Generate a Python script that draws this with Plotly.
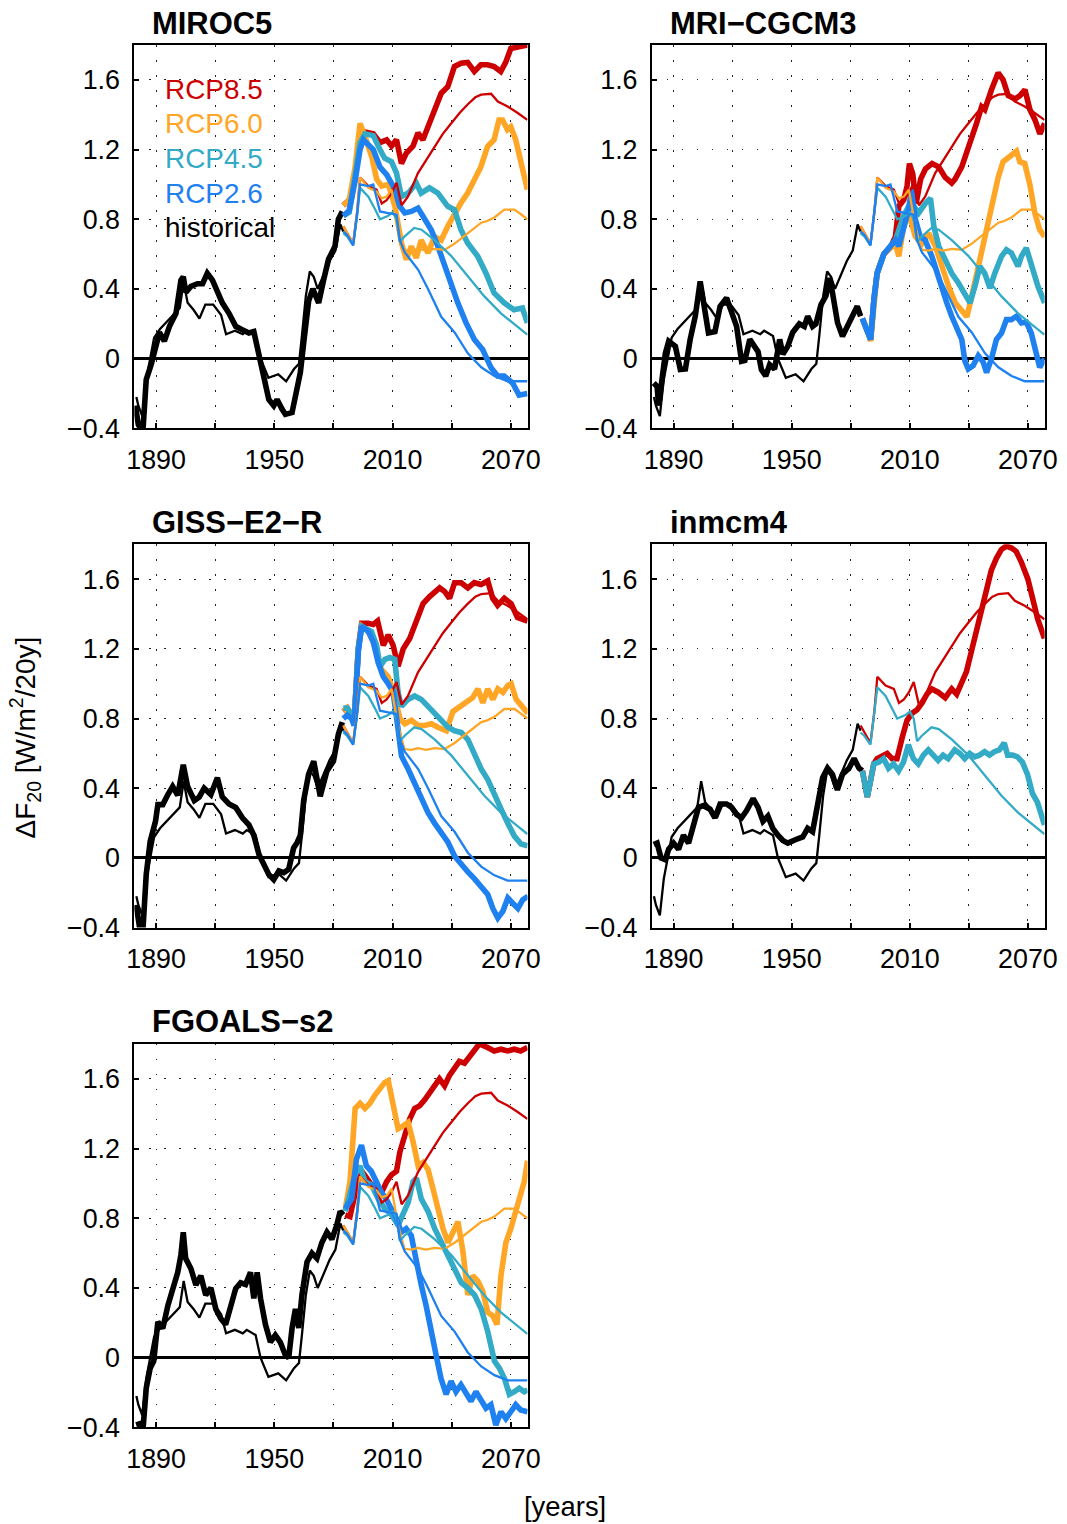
import plotly.graph_objects as go

# target picture is 1067x1524; the captured page area is a little larger, so the
# figure is sized to that area and positions are given as fractions of the target picture
PIC_W, PIC_H = 1067, 1524
W, H = 1083, 1540
FS = W / PIC_W  # font scale so text keeps its size after capture
XSHIFT = -5
RED = '#CC0000'
ORANGE = '#FFA626'
TEAL = '#33AAC6'
BLUE = '#1F80F0'
FONT = 'Liberation Sans, Arial, sans-serif'


def px(xp):
    return (xp + XSHIFT) / PIC_W


def py(yp):
    return 1 - yp / PIC_H


# ---------------- shared thin (multi-model mean) lines ----------------
hist_mean_years = [1880, 1881, 1883, 1885, 1887, 1889, 1892, 1897, 1902, 1904, 1906, 1909, 1912,
                   1915, 1919, 1923, 1925.5, 1930, 1934, 1936, 1940.5, 1943, 1947, 1952, 1956,
                   1960, 1962.5, 1964, 1966, 1968, 1970, 1972, 1975, 1978, 1981, 1983.5, 1985]
hist_mean_vals = [-0.22, -0.27, -0.33, -0.12, 0.0, 0.12, 0.17, 0.23, 0.29, 0.44, 0.32, 0.28, 0.23,
                  0.31, 0.31, 0.25, 0.14, 0.16, 0.14, 0.16, 0.13, 0.0, -0.11, -0.09, -0.13,
                  -0.06, -0.03, 0.13, 0.36, 0.50, 0.47, 0.40, 0.48, 0.56, 0.62, 0.77, 0.73]

rcp85_mean_years = [1985, 1987, 1990, 1992, 1993.5, 1997.7, 2001.9, 2004.5, 2007, 2009.5, 2012, 2014.6,
                    2017.8, 2022.9, 2027, 2031.3, 2035.5, 2039.7, 2044, 2048.2, 2052, 2055, 2060,
                    2063.4, 2068.4, 2073.5, 2078.4]
rcp85_mean_vals = [0.76, 0.72, 0.66, 0.84, 1.04, 0.99, 0.97, 0.89, 0.91, 0.95, 1.01, 0.88,
                   0.93, 1.065, 1.14, 1.22, 1.29, 1.35, 1.41, 1.46, 1.50, 1.515, 1.52,
                   1.476, 1.447, 1.41, 1.37]

rcp60_mean_years = [1985, 1987, 1990, 1992, 1993.5, 1997.7, 2001.9, 2004.5, 2007, 2009.5, 2012.8, 2016,
                    2019.5, 2023, 2027, 2031.3, 2036.4, 2041.5, 2045, 2048.2, 2051.5, 2055, 2058,
                    2061.7, 2066.7, 2071.8, 2075, 2078.4]
rcp60_mean_vals = [0.76, 0.72, 0.66, 0.84, 1.04, 0.98, 0.96, 0.92, 0.93, 0.97, 0.76, 0.625,
                   0.62, 0.63, 0.62, 0.63, 0.625, 0.66, 0.69, 0.72, 0.75, 0.78, 0.79,
                   0.81, 0.855, 0.855, 0.83, 0.80]

rcp45_mean_years = [1985, 1987, 1990, 1992, 1993.5, 1997.7, 2001, 2003.6, 2007.8, 2010, 2012, 2013.7,
                    2016, 2021, 2024.7, 2031.3, 2039.7, 2048.2, 2056.6, 2065, 2073.5, 2078.4]
rcp45_mean_vals = [0.72, 0.70, 0.65, 0.82, 0.98, 0.93, 0.86, 0.80, 0.82, 0.84, 0.80, 0.67,
                   0.70, 0.75, 0.74, 0.68, 0.59, 0.47, 0.357, 0.26, 0.185, 0.137]

rcp26_mean_years = [1985, 1987, 1990, 1992, 1993.5, 1997.7, 2000.2, 2003.6, 2007.8, 2012, 2013.7,
                    2016.2, 2019.6, 2023, 2028, 2034.7, 2041.5, 2048.2, 2055, 2061.7, 2068.4, 2078.4]
rcp26_mean_vals = [0.73, 0.71, 0.65, 0.83, 1.0, 0.99, 1.0, 0.845, 0.835, 0.826, 0.68,
                   0.61, 0.56, 0.51, 0.40, 0.24, 0.15, 0.03, -0.05, -0.10, -0.13, -0.13]

# ---------------- MIROC5 ----------------
miroc5_hist_years = [1879.5, 1881, 1883.3, 1885, 1887.5, 1890, 1891.7, 1894.2, 1896.8, 1900.1, 1902.6,
                     1903.8, 1905.1, 1907.7, 1911, 1913.6, 1916, 1918.6, 1921.1, 1923.6, 1927, 1930.4,
                     1933.7, 1937.1, 1939.6, 1942.2, 1944.7, 1947.2, 1949.7, 1951.4, 1953.9, 1955.6,
                     1959, 1960.6, 1963.2, 1965, 1967.4, 1969.5, 1971, 1972.5, 1975, 1977.5, 1980.8,
                     1982.5, 1984.5]
miroc5_hist_vals = [-0.27, -0.38, -0.42, -0.12, -0.035, 0.07, 0.15, 0.10, 0.185, 0.26, 0.45,
                    0.47, 0.38, 0.415, 0.43, 0.43, 0.49, 0.45, 0.38, 0.32, 0.26, 0.185,
                    0.166, 0.147, 0.155, 0.03, -0.10, -0.235, -0.27, -0.235, -0.29, -0.32,
                    -0.31, -0.235, -0.08, 0.10, 0.33, 0.40, 0.36, 0.32, 0.45, 0.57, 0.645,
                    0.80, 0.845]
miroc5_rcp85_years = [1985, 1987, 1989, 1991, 1993.5, 1996, 2000.2, 2003.6, 2007, 2009.5, 2012, 2014.5,
                      2017, 2020.4, 2022.9, 2025.4, 2028, 2031.3, 2034.7, 2038, 2041.4, 2044.7, 2048.1,
                      2051.5, 2054.8, 2058.2, 2061.5, 2064.9, 2067.4, 2070, 2073.4, 2078.4]
miroc5_rcp85_vals = [0.88, 0.90, 0.92, 1.06, 1.30, 1.30, 1.29, 1.24, 1.256, 1.22, 1.256, 1.12,
                     1.18, 1.22, 1.295, 1.256, 1.33, 1.43, 1.524, 1.56, 1.677, 1.696, 1.70,
                     1.648, 1.687, 1.687, 1.677, 1.648, 1.70, 1.78, 1.79, 1.80]
miroc5_rcp60_years = [1985, 1988, 1991, 1993.5, 1996, 1999.4, 2001.9, 2004.5, 2007.9, 2011.2, 2014.5, 2017,
                      2019.5, 2022, 2024.5, 2028, 2031.3, 2034.7, 2038, 2041.4, 2044.7, 2048.1, 2051.5,
                      2054.8, 2058.2, 2061.5, 2064, 2065.8, 2068.3, 2070, 2072.5, 2075, 2078.4]
miroc5_rcp60_vals = [0.88, 0.91, 1.10, 1.35, 1.275, 1.16, 1.03, 0.99, 1.0, 0.874, 0.664, 0.568,
                     0.645, 0.578, 0.68, 0.606, 0.70, 0.68, 0.76, 0.836, 0.893, 0.95, 1.027,
                     1.10, 1.218, 1.256, 1.37, 1.37, 1.314, 1.33, 1.256, 1.14, 0.97]
miroc5_rcp45_years = [1985, 1988, 1991, 1993.5, 1996, 2000.2, 2003.6, 2006, 2009.5, 2012, 2014.5, 2018,
                      2022, 2024.5, 2028.7, 2033, 2038, 2041.4, 2044.7, 2048.1, 2053.2, 2057.4, 2061.5,
                      2066.6, 2071.6, 2075.9, 2078.4]
miroc5_rcp45_vals = [0.82, 0.84, 1.05, 1.24, 1.29, 1.28, 1.20, 1.15, 1.13, 1.065, 0.93, 0.95,
                     1.008, 0.95, 0.98, 0.95, 0.874, 0.855, 0.74, 0.664, 0.587, 0.49, 0.377,
                     0.32, 0.28, 0.29, 0.205]
miroc5_rcp26_years = [1985, 1988, 1991, 1993.5, 1995.2, 2000.2, 2003.6, 2007, 2010.3, 2013.7, 2016.2,
                      2019.5, 2022.9, 2026.3, 2029.6, 2033, 2036.4, 2039.8, 2043.1, 2047.3, 2051.5,
                      2055.7, 2060, 2063.3, 2066.6, 2070.9, 2074.2, 2078.4]
miroc5_rcp26_vals = [0.82, 0.85, 1.02, 1.20, 1.256, 1.20, 1.10, 1.056, 0.99, 0.874, 0.836,
                     0.845, 0.864, 0.80, 0.74, 0.645, 0.53, 0.434, 0.32, 0.205, 0.11,
                     0.052, -0.053, -0.10, -0.10, -0.14, -0.21, -0.20]

# ---------------- MRI-CGCM3 ----------------
mri_hist_years = [1879.9, 1881.6, 1882.4, 1884.1, 1885.8, 1887.5, 1890.9, 1893.4, 1896, 1898.4, 1901,
                  1903.5, 1906, 1907.7, 1911, 1913.6, 1916.9, 1919.5, 1922, 1924.5, 1926.2, 1928.7,
                  1930.4, 1932.9, 1934.6, 1936.8, 1938.8, 1941.3, 1943.9, 1945.5, 1948, 1950.5,
                  1953.9, 1956.4, 1958.1, 1960.6, 1962.3, 1964.9, 1967.4, 1969.2, 1970.7, 1973.3,
                  1975.8, 1978.3, 1980.8, 1983.3, 1985]
mri_hist_vals = [-0.14, -0.16, -0.27, -0.08, 0.03, 0.10, 0.07, -0.063, -0.06, 0.11, 0.243,
                 0.443, 0.243, 0.147, 0.155, 0.30, 0.348, 0.26, 0.185, -0.015, -0.01, 0.11,
                 0.08, 0.04, -0.063, -0.10, -0.035, -0.06, 0.11, 0.025, 0.07, 0.15,
                 0.20, 0.185, 0.243, 0.185, 0.20, 0.31, 0.36, 0.463, 0.38, 0.205,
                 0.128, 0.185, 0.243, 0.30, 0.243]
mri_rcp85_years = [1985.9, 1989.2, 1990.1, 1991.8, 1993.4, 1996.8, 2000.2, 2002.7, 2004.4, 2006.9, 2008.6,
                   2009.8, 2011.5, 2013.2, 2015.5, 2018, 2021.3, 2024.7, 2028, 2031.3, 2033, 2036.4,
                   2039, 2041.4, 2043.9, 2046.5, 2048.1, 2051.5, 2054.9, 2057.4, 2060, 2063.4, 2066,
                   2068.5, 2071, 2073.6, 2076.1, 2078.5]
mri_rcp85_vals = [0.23, 0.147, 0.11, 0.34, 0.49, 0.60, 0.64, 0.70, 0.874, 0.91, 0.99,
                  1.12, 1.06, 0.89, 1.03, 1.09, 1.12, 1.10, 1.04, 1.008, 1.03, 1.10,
                  1.18, 1.256, 1.35, 1.446, 1.43, 1.543, 1.64, 1.60, 1.51, 1.49, 1.51,
                  1.543, 1.43, 1.37, 1.29, 1.35]
mri_rcp60_years = [1985.9, 1989.2, 1990.1, 1991.8, 1993.4, 1996.8, 2000.2, 2002.7, 2004.4, 2006.9, 2009.4,
                   2012.8, 2016.2, 2019.6, 2023, 2026.3, 2029.7, 2033.1, 2036.4, 2039, 2041.5, 2044.8,
                   2048.2, 2051.5, 2054.9, 2057.4, 2060, 2062.5, 2064.2, 2065.9, 2068.4, 2071, 2073.5,
                   2076, 2078.5]
mri_rcp60_vals = [0.23, 0.147, 0.10, 0.34, 0.49, 0.60, 0.63, 0.66, 0.587, 0.76, 0.836,
                  0.70, 0.66, 0.72, 0.645, 0.53, 0.415, 0.32, 0.28, 0.24, 0.36, 0.53,
                  0.70, 0.89, 1.04, 1.13, 1.15, 1.17, 1.19, 1.13, 1.12, 1.0, 0.836,
                  0.74, 0.70]
mri_rcp45_years = [1985.9, 1989.2, 1990.1, 1991.8, 1993.4, 1996.8, 2000.2, 2002.7, 2006.9, 2009.4, 2012,
                   2014.5, 2018, 2020.5, 2022.2, 2024.7, 2028, 2031.3, 2034.7, 2038, 2040.6, 2043.1,
                   2045.6, 2048.1, 2050.7, 2053.2, 2056.6, 2059.1, 2061.6, 2065, 2066.7, 2069.2,
                   2071.7, 2075.1, 2078.5]
mri_rcp45_vals = [0.23, 0.147, 0.11, 0.34, 0.49, 0.60, 0.64, 0.68, 0.82, 0.874, 0.874,
                  0.836, 0.893, 0.92, 0.76, 0.645, 0.568, 0.49, 0.434, 0.377, 0.32, 0.415,
                  0.53, 0.49, 0.405, 0.49, 0.587, 0.625, 0.606, 0.53, 0.587, 0.635,
                  0.53, 0.415, 0.32]
mri_rcp26_years = [1985.9, 1989.2, 1990.1, 1991.8, 1993.4, 1996.8, 2000.2, 2002.7, 2004.4, 2006.9, 2009.4,
                   2010.8, 2012.8, 2015.3, 2017.8, 2021.2, 2023.7, 2026.3, 2028.8, 2031.3, 2033.8,
                   2036.4, 2038, 2039.7, 2042.2, 2044.8, 2047.3, 2049, 2051.5, 2054, 2056.6, 2059.1,
                   2061.6, 2064.2, 2066.7, 2069.2, 2071.7, 2074.3, 2076, 2078.5]
mri_rcp26_vals = [0.23, 0.147, 0.11, 0.34, 0.49, 0.60, 0.64, 0.68, 0.645, 0.74, 0.855,
                  0.97, 0.80, 0.70, 0.68, 0.587, 0.49, 0.396, 0.32, 0.243, 0.185,
                  0.11, -0.014, -0.06, -0.04, 0.017, -0.02, -0.08, 0.0, 0.11, 0.147, 0.224,
                  0.224, 0.243, 0.205, 0.21, 0.147, 0.017, -0.05, 0.0]

# ---------------- GISS-E2-R ----------------
giss_hist_years = [1879.9, 1881.9, 1883.3, 1885, 1887, 1889.7, 1890.9, 1893.4, 1896, 1898.4, 1901, 1903.8,
                   1906, 1909.4, 1911.9, 1914.4, 1917.8, 1921.1, 1923.6, 1927, 1930.4, 1933.8, 1937.1,
                   1939.6, 1942.2, 1944.7, 1947.2, 1949.7, 1952.3, 1954.8, 1957.3, 1959.8, 1961.5,
                   1963.2, 1964.9, 1967.4, 1970, 1973.3, 1976.7, 1980, 1982.5, 1984.5]
giss_hist_vals = [-0.27, -0.42, -0.42, -0.095, 0.096, 0.21, 0.306, 0.306, 0.364, 0.41, 0.36, 0.535,
                  0.41, 0.33, 0.35, 0.40, 0.364, 0.46, 0.35, 0.31, 0.29, 0.23, 0.19,
                  0.13, 0.02, -0.045, -0.095, -0.125, -0.075, -0.085, -0.065, 0.057, 0.086,
                  0.13, 0.33, 0.48, 0.555, 0.354, 0.50, 0.555, 0.71, 0.78]
giss_rcp85_years = [1985, 1987, 1989.2, 1990.5, 1992.6, 1994.3, 1997.7, 2000.2, 2002.4, 2005.3, 2007.8,
                    2010.3, 2012.8, 2015.4, 2018.7, 2022.1, 2025.5, 2028.8, 2031.4, 2033.9, 2036.4,
                    2038.9, 2041.5, 2044.8, 2048.2, 2051.5, 2054.9, 2058.3, 2060.8, 2063.3, 2066.7,
                    2070.1, 2073.4, 2078.5]
giss_rcp85_vals = [0.84, 0.86, 0.82, 0.78, 1.20, 1.347, 1.347, 1.34, 1.36, 1.22, 1.28,
                   1.22, 1.10, 1.20, 1.26, 1.36, 1.46, 1.50, 1.53, 1.55, 1.53,
                   1.49, 1.58, 1.58, 1.55, 1.58, 1.57, 1.59, 1.49, 1.45, 1.49,
                   1.46, 1.38, 1.36]
giss_rcp60_years = [1985, 1987, 1989.2, 1990.5, 1992.6, 1994.3, 1997.7, 2000.2, 2002.7, 2004.4, 2007.8,
                    2011.1, 2013.7, 2016.2, 2019.6, 2022.9, 2026.3, 2029.7, 2033, 2037.3, 2040.6, 2044,
                    2047.4, 2050.7, 2053.3, 2055.8, 2058.3, 2060.9, 2063.4, 2066, 2068.5, 2070.2,
                    2072.7, 2075.3, 2078.7]
giss_rcp60_vals = [0.84, 0.86, 0.82, 0.78, 1.20, 1.33, 1.30, 1.24, 1.14, 1.08, 1.04,
                   0.93, 0.80, 0.77, 0.79, 0.76, 0.76, 0.77, 0.75, 0.73, 0.84, 0.87,
                   0.89, 0.92, 0.97, 0.89, 0.97, 0.91, 0.97, 0.95, 0.99, 1.0,
                   0.91, 0.87, 0.83]
giss_rcp45_years = [1985, 1987, 1989.2, 1990.5, 1992.6, 1994.3, 1999.3, 2001.9, 2003.6, 2006.1, 2008.6,
                    2011.1, 2012.8, 2014.5, 2017.8, 2021.2, 2024.6, 2028, 2031.4, 2034.8, 2038.1,
                    2041.5, 2044.9, 2048.2, 2051.6, 2055, 2058.3, 2061.7, 2065.1, 2068.4, 2071.8,
                    2075.2, 2078.5]
giss_rcp45_vals = [0.86, 0.86, 0.82, 0.78, 1.20, 1.33, 1.30, 1.22, 1.10, 1.14, 1.15,
                   1.14, 0.95, 0.87, 0.91, 0.93, 0.91, 0.87, 0.84, 0.80, 0.75,
                   0.73, 0.72, 0.68, 0.585, 0.51, 0.45, 0.355, 0.28, 0.20, 0.125,
                   0.08, 0.07]
giss_rcp26_years = [1985, 1987, 1989.2, 1990.5, 1992.6, 1994.3, 1997.7, 2000.2, 2002.7, 2005.3, 2007.8,
                    2010.3, 2012.8, 2014.5, 2017.9, 2021.2, 2024.6, 2028, 2031.3, 2034.7, 2038.1,
                    2041.5, 2044.9, 2048.2, 2051.6, 2055, 2058.3, 2060.9, 2063.4, 2066, 2068.5,
                    2071, 2073.6, 2076.1, 2078.7]
giss_rcp26_vals = [0.80, 0.82, 0.80, 0.76, 1.18, 1.33, 1.30, 1.24, 1.12, 1.04, 1.0,
                   0.95, 0.74, 0.585, 0.51, 0.43, 0.335, 0.26, 0.20, 0.145, 0.09,
                   0.01, -0.04, -0.08, -0.12, -0.17, -0.21, -0.29, -0.345, -0.305, -0.23,
                   -0.26, -0.29, -0.24, -0.22]

# ---------------- inmcm4 ----------------
inm_hist_years = [1879.9, 1881.6, 1883.6, 1885.8, 1887.5, 1890, 1892.5, 1895, 1897.6, 1900.1, 1902.6,
                  1905.1, 1908.5, 1911, 1913.6, 1916.9, 1919.5, 1922, 1924.5, 1927, 1930.4, 1932.9,
                  1935.4, 1937.9, 1940.4, 1943, 1945.5, 1948, 1950.5, 1953, 1955.6, 1958.1, 1960.6,
                  1963.2, 1965.7, 1968.2, 1970.7, 1973.2, 1975.8, 1979.1, 1981.7, 1984.2, 1985.9]
inm_hist_vals = [0.077, 0.085, 0.0, -0.01, 0.05, 0.085, 0.05, 0.13, 0.085, 0.19, 0.29,
                 0.30, 0.28, 0.23, 0.31, 0.31, 0.29, 0.25, 0.23, 0.27, 0.34, 0.29,
                 0.21, 0.24, 0.17, 0.13, 0.10, 0.085, 0.10, 0.11, 0.12, 0.17, 0.15,
                 0.30, 0.46, 0.515, 0.48, 0.39, 0.48, 0.515, 0.57, 0.515, 0.50]
inm_rcp85_years = [1985.9, 1988.4, 1990, 1991.7, 1993.4, 1996, 1998.5, 2001, 2003.5, 2006.1, 2008.6,
                   2011.1, 2013.7, 2016.2, 2018.7, 2021.2, 2024.6, 2028, 2031.3, 2033.8, 2036.3,
                   2038.8, 2041.4, 2043.9, 2046.4, 2048.9, 2051.4, 2054, 2056.5, 2059, 2061.5, 2064,
                   2066.6, 2070, 2072.5, 2075, 2078.4]
inm_rcp85_vals = [0.50, 0.35, 0.44, 0.54, 0.57, 0.59, 0.60, 0.57, 0.57, 0.69, 0.79,
                  0.83, 0.85, 0.89, 0.94, 0.97, 0.95, 0.92, 0.97, 0.94, 1.0,
                  1.07, 1.19, 1.30, 1.40, 1.51, 1.65, 1.72, 1.77, 1.79, 1.78, 1.76,
                  1.70, 1.60, 1.49, 1.37, 1.26]
inm_rcp45_years = [1985.9, 1988.4, 1990, 1991.7, 1994.2, 1996.7, 1999.2, 2001.7, 2004.3, 2006.8, 2009.3,
                   2011.8, 2014.3, 2016.9, 2019.4, 2021.9, 2024.4, 2026.9, 2029.5, 2032.8, 2035.4,
                   2037.9, 2040.4, 2042.9, 2045.4, 2048, 2050.5, 2053, 2055.5, 2058, 2059.7, 2062.2,
                   2064.7, 2067.2, 2069.8, 2072.3, 2074.8, 2076.5, 2078.4]
inm_rcp45_vals = [0.50, 0.35, 0.44, 0.54, 0.55, 0.57, 0.515, 0.54, 0.50, 0.55, 0.65,
                  0.57, 0.54, 0.59, 0.62, 0.59, 0.56, 0.59, 0.57, 0.62, 0.60,
                  0.57, 0.60, 0.58, 0.59, 0.61, 0.59, 0.61, 0.62, 0.66, 0.59, 0.59,
                  0.58, 0.55, 0.48, 0.37, 0.32, 0.26, 0.19]

# ---------------- FGOALS-s2 ----------------
fgoals_hist_years = [1879.9, 1881.5, 1883.3, 1885, 1887, 1888.8, 1890.9, 1893.4, 1896, 1898.4, 1901, 1902.6,
                     1903.8, 1905, 1907.7, 1910.2, 1912.7, 1915.2, 1917.8, 1920.3, 1922.8, 1925.3,
                     1927.8, 1930.4, 1932.9, 1935.4, 1937.9, 1939.6, 1941.3, 1943, 1945.5, 1948,
                     1950.5, 1953, 1955.6, 1957.3, 1959, 1960.7, 1962.4, 1964, 1966.6, 1969.1, 1971.6,
                     1974.1, 1976.7, 1979.2, 1981.7, 1983.4, 1985]
fgoals_hist_vals = [-0.386, -0.38, -0.42, -0.175, -0.06, -0.02, 0.206, 0.168, 0.30, 0.397, 0.49, 0.59,
                    0.72, 0.57, 0.51, 0.417, 0.47, 0.36, 0.40, 0.28, 0.225, 0.19,
                    0.30, 0.397, 0.43, 0.42, 0.49, 0.34, 0.49, 0.34, 0.19, 0.09,
                    0.13, 0.09, 0.015, 0.0, 0.17, 0.28, 0.17, 0.36, 0.55, 0.60, 0.57,
                    0.66, 0.72, 0.68, 0.76, 0.84, 0.82]
fgoals_rcp85_years = [1986, 1988.4, 1991.9, 1994.4, 1996.9, 1999.4, 2001.9, 2004.5, 2007, 2009.5, 2012,
                      2013.7, 2016.2, 2018.7, 2021.2, 2023.7, 2026.3, 2028.8, 2031.3, 2033.8, 2036.4,
                      2038.9, 2041.4, 2043.9, 2046.5, 2049, 2051.5, 2054, 2058.2, 2061.6, 2065,
                      2068.3, 2071.7, 2075, 2078.4]
fgoals_rcp85_vals = [0.82, 0.81, 0.99, 1.07, 1.03, 0.99, 0.99, 0.95, 1.01, 1.05, 1.07,
                     1.18, 1.275, 1.37, 1.43, 1.445, 1.48, 1.52, 1.56, 1.60, 1.56,
                     1.62, 1.66, 1.70, 1.69, 1.73, 1.76, 1.80, 1.78, 1.76, 1.77,
                     1.76, 1.77, 1.76, 1.78]
fgoals_rcp60_years = [1986, 1988.4, 1991, 1993.5, 1996, 1998.5, 2001, 2003.6, 2006.1, 2007.8, 2010.3,
                      2012.8, 2015.4, 2017.9, 2020.4, 2023, 2025.5, 2028, 2030.5, 2033.1, 2035.6,
                      2038.1, 2040.6, 2043.2, 2045.7, 2048.2, 2050.7, 2053.3, 2055.8, 2058.3, 2060.9,
                      2063, 2065, 2067.5, 2070, 2072.6, 2075.1, 2076.8, 2078.5]
fgoals_rcp60_vals = [0.855, 1.01, 1.43, 1.46, 1.43, 1.46, 1.505, 1.545, 1.58, 1.59, 1.445,
                     1.314, 1.33, 1.35, 1.24, 1.10, 1.12, 1.08, 0.97, 0.84, 0.74,
                     0.66, 0.72, 0.78, 0.61, 0.36, 0.47, 0.44, 0.38, 0.26, 0.24,
                     0.19, 0.47, 0.66, 0.74, 0.855, 0.935, 1.01, 1.13]
fgoals_rcp45_years = [1986, 1991, 1993.5, 1996, 1999.4, 2002.8, 2006.1, 2009.5, 2012.8, 2015.4, 2017.9,
                      2020.4, 2022.1, 2024.6, 2028, 2031.4, 2034.8, 2038.1, 2041.5, 2044.9, 2048.2,
                      2051.6, 2055, 2058.3, 2061.7, 2064.2, 2066.8, 2069.3, 2071.8, 2074.3, 2076.8,
                      2078.5]
fgoals_rcp45_vals = [0.84, 1.05, 1.10, 1.01, 0.99, 0.91, 0.855, 0.82, 0.76, 0.82, 0.89,
                     1.01, 1.03, 0.91, 0.84, 0.74, 0.66, 0.59, 0.51, 0.43, 0.40,
                     0.36, 0.28, 0.15, -0.02, -0.06, -0.12, -0.21, -0.195, -0.175, -0.195,
                     -0.185]
fgoals_rcp26_years = [1986, 1989.2, 1991.7, 1994.2, 1996.7, 1999.2, 2001.8, 2004.3, 2006.8, 2009.4, 2011.9,
                      2014.4, 2016.9, 2019.5, 2022, 2024.5, 2027, 2029.6, 2032.1, 2034.6, 2037.2,
                      2039.7, 2042.2, 2044.7, 2047.3, 2049.8, 2052.3, 2054.8, 2057.4, 2059.9, 2062.4,
                      2065, 2067.5, 2070, 2072.5, 2075, 2078.5]
fgoals_rcp26_vals = [0.855, 0.91, 1.14, 1.22, 1.10, 1.07, 1.01, 0.95, 0.91, 0.855, 0.80,
                     0.72, 0.74, 0.70, 0.55, 0.42, 0.30, 0.17, 0.015, -0.12, -0.21,
                     -0.135, -0.195, -0.155, -0.21, -0.25, -0.195, -0.25, -0.29, -0.27, -0.386,
                     -0.31, -0.35, -0.31, -0.27, -0.30, -0.31]

# ---------------- tick labels / names ----------------
x_tick_vals = [1890, 1950, 2010, 2070]
x_tick_text = ['1890', '1950', '2010', '2070']
x_minor_vals = [1920, 1980, 2040]
y_tick_vals = [-0.4, 0, 0.4, 0.8, 1.2, 1.6]
y_tick_text = ['\u22120.4', '0', '0.4', '0.8', '1.2', '1.6']
legend_labels = ['RCP8.5', 'RCP6.0', 'RCP4.5', 'RCP2.6', 'historical']
legend_colors = [RED, ORANGE, TEAL, BLUE, 'black']

means = {
    'hist': (hist_mean_years, hist_mean_vals),
    'rcp85': (rcp85_mean_years, rcp85_mean_vals),
    'rcp60': (rcp60_mean_years, rcp60_mean_vals),
    'rcp45': (rcp45_mean_years, rcp45_mean_vals),
    'rcp26': (rcp26_mean_years, rcp26_mean_vals),
}
scen_color = {'hist': 'black', 'rcp85': RED, 'rcp60': ORANGE, 'rcp45': TEAL, 'rcp26': BLUE}

models = [
    ('MIROC5', {'hist': (miroc5_hist_years, miroc5_hist_vals),
                'rcp85': (miroc5_rcp85_years, miroc5_rcp85_vals),
                'rcp60': (miroc5_rcp60_years, miroc5_rcp60_vals),
                'rcp45': (miroc5_rcp45_years, miroc5_rcp45_vals),
                'rcp26': (miroc5_rcp26_years, miroc5_rcp26_vals)}),
    ('MRI\u2212CGCM3', {'hist': (mri_hist_years, mri_hist_vals),
                        'rcp85': (mri_rcp85_years, mri_rcp85_vals),
                        'rcp60': (mri_rcp60_years, mri_rcp60_vals),
                        'rcp45': (mri_rcp45_years, mri_rcp45_vals),
                        'rcp26': (mri_rcp26_years, mri_rcp26_vals)}),
    ('GISS\u2212E2\u2212R', {'hist': (giss_hist_years, giss_hist_vals),
                             'rcp85': (giss_rcp85_years, giss_rcp85_vals),
                             'rcp60': (giss_rcp60_years, giss_rcp60_vals),
                             'rcp45': (giss_rcp45_years, giss_rcp45_vals),
                             'rcp26': (giss_rcp26_years, giss_rcp26_vals)}),
    ('inmcm4', {'hist': (inm_hist_years, inm_hist_vals),
                'rcp85': (inm_rcp85_years, inm_rcp85_vals),
                'rcp45': (inm_rcp45_years, inm_rcp45_vals)}),
    ('FGOALS\u2212s2', {'hist': (fgoals_hist_years, fgoals_hist_vals),
                        'rcp85': (fgoals_rcp85_years, fgoals_rcp85_vals),
                        'rcp60': (fgoals_rcp60_years, fgoals_rcp60_vals),
                        'rcp45': (fgoals_rcp45_years, fgoals_rcp45_vals),
                        'rcp26': (fgoals_rcp26_years, fgoals_rcp26_vals)}),
]

# panel boxes in target-picture pixels: (left, right, top, bottom)
boxes = [(132, 527, 45, 428), (652, 1046.5, 45, 428),
         (132, 527, 544, 927), (652, 1046.5, 544, 927),
         (132, 527, 1043.3, 1426.5)]

fig = go.Figure()
layout = dict(width=W, height=H, autosize=False, margin=dict(l=0, r=0, t=0, b=0),
              paper_bgcolor='white', plot_bgcolor='white', showlegend=False,
              font=dict(family=FONT, size=26 * FS, color='black'))
annotations = []

GRID = dict(gridcolor='#222222', gridwidth=1.3, griddash='1.5px,13.5px')
order = ['rcp85', 'rcp60', 'rcp45', 'rcp26']
for i, (name, data) in enumerate(models):
    k = '' if i == 0 else str(i + 1)
    xa, ya = 'x' + k, 'y' + k
    L, R, T, B = boxes[i]
    hx, hy = data['hist']
    fig.add_trace(go.Scatter(x=hx, y=hy, mode='lines', xaxis=xa, yaxis=ya,
                             line=dict(color='black', width=5.6)))
    for s in order:
        if s in data:
            sx, sy = data[s]
            fig.add_trace(go.Scatter(x=sx, y=sy, mode='lines', xaxis=xa, yaxis=ya,
                                     line=dict(color=scen_color[s], width=5.6)))
    for s in ['hist'] + order:
        if s in data:
            mx, my = means[s]
            fig.add_trace(go.Scatter(x=mx, y=my, mode='lines', xaxis=xa, yaxis=ya,
                                     line=dict(color=scen_color[s], width=2.3)))
    axcommon = dict(showgrid=True, showline=True, linecolor='black', linewidth=2, mirror=True,
                    ticks='inside', ticklen=5, tickcolor='black', tickwidth=1.5,
                    tickfont=dict(family=FONT, size=26.5 * FS, color='black'), fixedrange=True, **GRID)
    layout['xaxis' + k] = dict(domain=[px(L), px(R)], range=[1879, 2078.5], anchor=ya,
                               tickmode='array', tickvals=x_tick_vals, ticktext=x_tick_text,
                               minor=dict(tickmode='array', tickvals=x_minor_vals, showgrid=True,
                                          ticks='inside', ticklen=5, tickcolor='black', **GRID),
                               zeroline=False, ticklabelstandoff=6, **axcommon)
    layout['yaxis' + k] = dict(domain=[py(B), py(T)], range=[-0.4, 1.8], anchor=xa,
                               tickmode='array', tickvals=y_tick_vals, ticktext=y_tick_text,
                               zeroline=True, zerolinecolor='black', zerolinewidth=2.5,
                               ticklabelstandoff=7, **axcommon)
    annotations.append(dict(text='<b>%s</b>' % name, xref='paper', yref='paper',
                            x=px(L + 16), y=py(T - 22), xanchor='left', yanchor='middle',
                            showarrow=False, font=dict(family=FONT, size=30.5 * FS, color='black')))

for j, (lab, col) in enumerate(zip(legend_labels, legend_colors)):
    annotations.append(dict(text=lab, xref='paper', yref='paper', x=px(161),
                            y=py(89 + 34.7 * j), xanchor='left', yanchor='middle',
                            showarrow=False, font=dict(family=FONT, size=27.5 * FS, color=col)))

annotations.append(dict(text='\u0394F<sub>20</sub> [W/m<sup>2</sup>/20y]', xref='paper', yref='paper',
                        x=px(23), y=py(737), xanchor='center', yanchor='middle', textangle=-90,
                        showarrow=False, font=dict(family=FONT, size=27.5 * FS, color='black')))
annotations.append(dict(text='[years]', xref='paper', yref='paper', x=px(565), y=py(1506),
                        xanchor='center', yanchor='middle', showarrow=False,
                        font=dict(family=FONT, size=27 * FS, color='black')))
layout['annotations'] = annotations
fig.update_layout(**layout)
fig.write_html('out.html', config={'displayModeBar': False},
               post_script="document.body.style.margin='0';")
